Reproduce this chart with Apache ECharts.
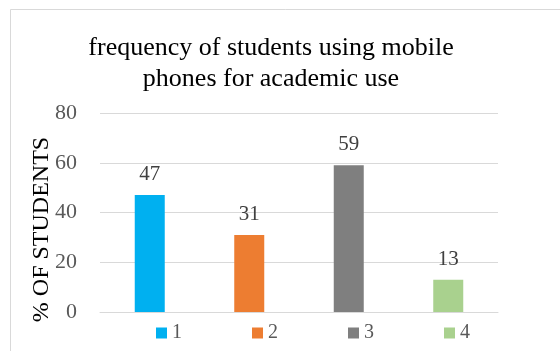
<!DOCTYPE html>
<html><head><meta charset="utf-8">
<script src="https://cdn.jsdelivr.net/npm/echarts@6/dist/echarts.min.js"></script>
<style>html,body{margin:0;padding:0;background:#fff}#c{width:560px;height:351px}</style>
</head><body><div id="c"></div>
<script>
const categories = ['1', '2', '3', '4'];
const values = [47, 31, 59, 13];
const colors = ['#00b0f0', '#ed7d31', '#7f7f7f', '#a9d18e'];
const yTicks = [0, 20, 40, 60, 80];
const titleText = 'frequency of students using mobile\nphones for academic use';
const yName = '% OF STUDENTS';

const serif = 'Liberation Serif';
const chart = echarts.init(document.getElementById('c'));
const series = categories.map((name, i) => ({
  name: name,
  type: 'bar',
  stack: 'all',
  barWidth: 30,
  itemStyle: { color: colors[i] },
  label: { show: true, position: 'top', distance: 10, color: '#404040', fontFamily: serif, fontSize: 21 },
  data: categories.map((c, j) => (j === i ? values[i] : '-'))
}));
chart.setOption({
  animation: false,
  backgroundColor: '#fff',
  graphic: [{ type: 'rect', shape: { x: 10.5, y: 9.5, width: 600, height: 400 }, style: { fill: 'none', stroke: '#d9d9d9', lineWidth: 1 }, silent: true }],
  title: {
    text: titleText, left: 266, top: 28, textAlign: 'center',
    textStyle: { fontFamily: serif, fontSize: 26, fontWeight: 'normal', color: '#000', lineHeight: 31 }
  },
  legend: {
    data: categories, bottom: 3, left: 151, itemGap: 70, itemWidth: 11, itemHeight: 11, icon: 'rect',
    textStyle: { fontFamily: serif, fontSize: 20, color: '#595959' }
  },
  grid: { left: 100, right: 62, top: 113, bottom: 39 },
  xAxis: {
    type: 'category', data: categories,
    axisLine: { lineStyle: { color: '#d9d9d9' } }, axisTick: { show: false }, axisLabel: { show: false }
  },
  yAxis: {
    type: 'value', min: yTicks[0], max: yTicks[yTicks.length - 1], interval: 20,
    name: yName, nameLocation: 'middle', nameGap: 46, nameRotate: 90, nameMoveOverlap: false,
    nameTextStyle: { fontFamily: serif, fontSize: 24, color: '#000', padding: [0, 34, 0, 0] },
    axisLine: { show: false }, axisTick: { show: false },
    axisLabel: { margin: 23, fontFamily: serif, fontSize: 22, color: '#595959' },
    splitLine: { lineStyle: { color: '#d9d9d9' } }
  },
  series: series
});
</script></body></html>
